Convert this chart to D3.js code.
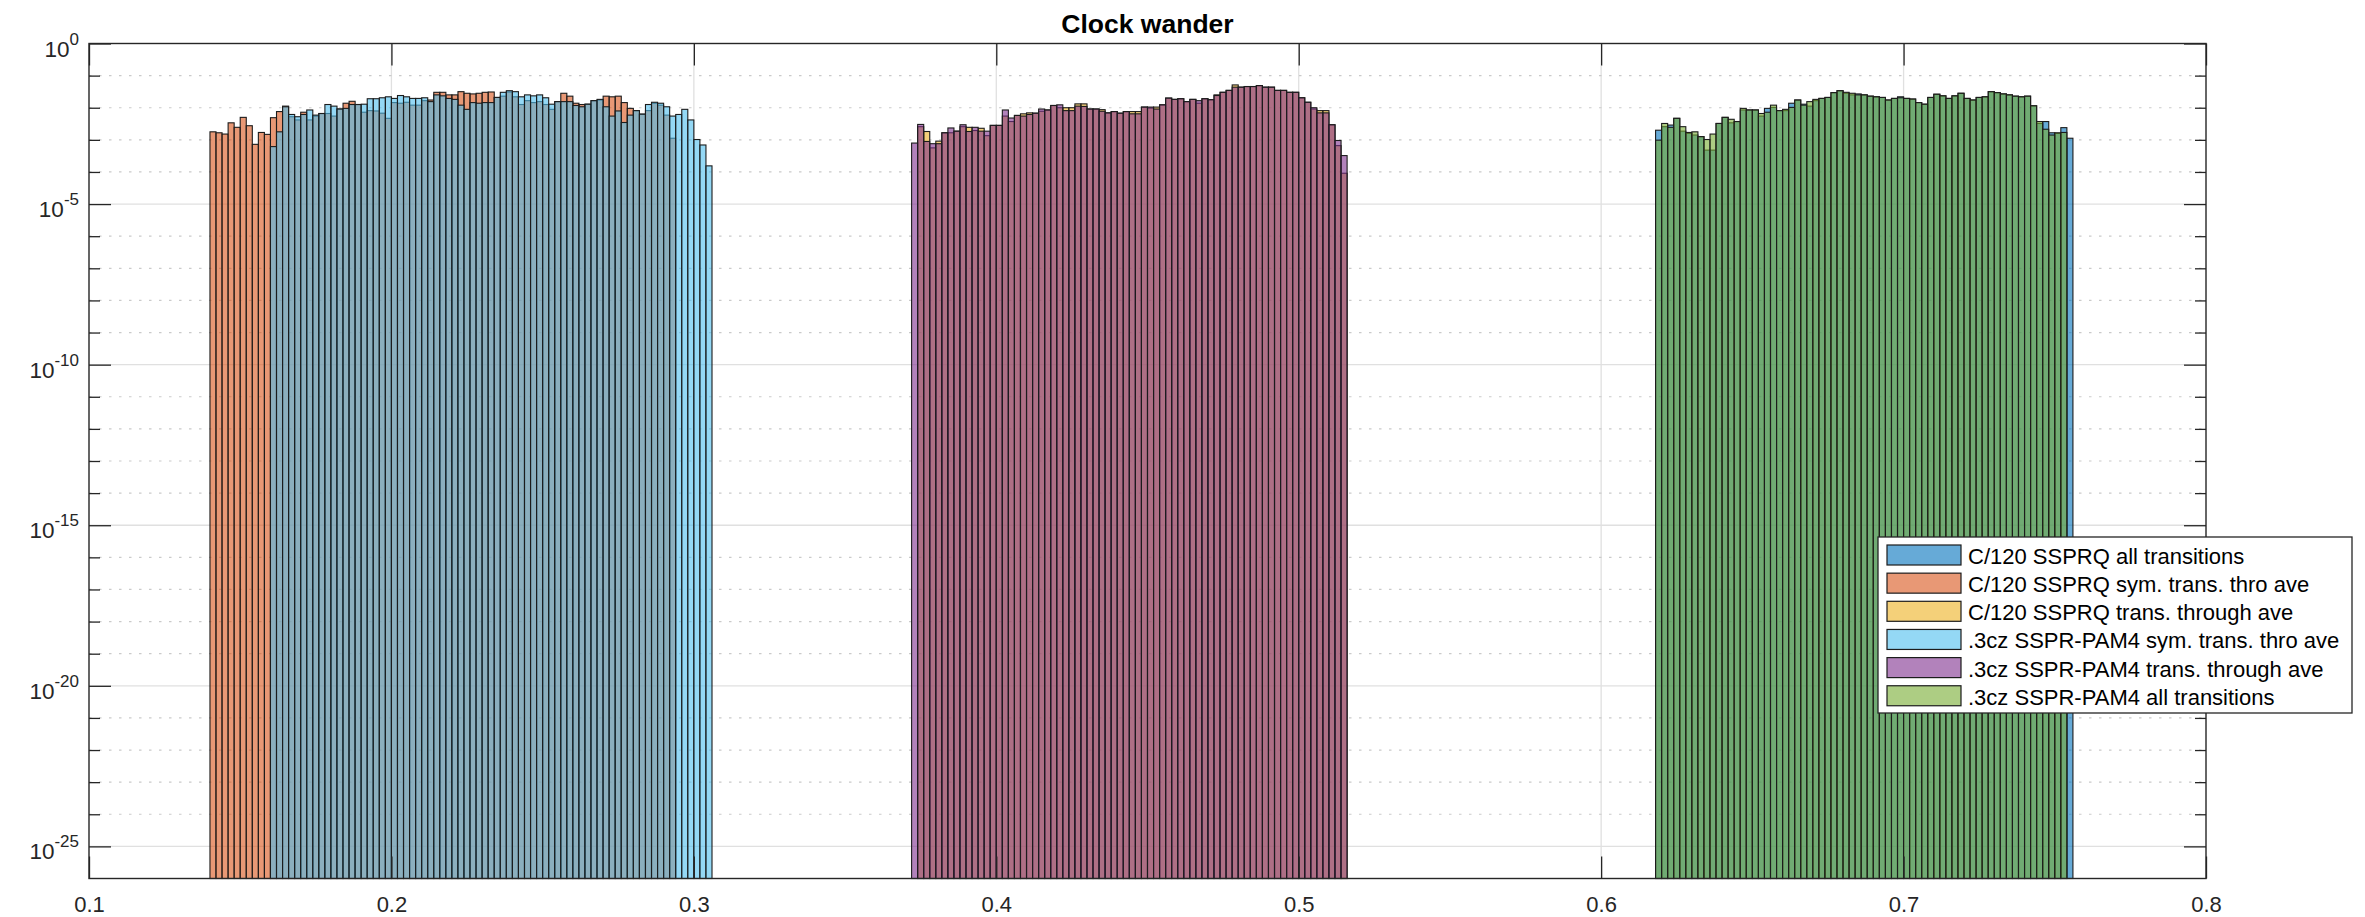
<!DOCTYPE html>
<html>
<head>
<meta charset="utf-8">
<script src="https://cdn.jsdelivr.net/npm/d3@7"></script>
<style>
  body { margin: 0; background: #fff; }
  svg { display: block; font-family: "Liberation Sans", Arial, Helvetica, sans-serif; }
</style>
</head>
<body>
<div id="chart"></div>
<script>
// Clock wander histograms (probability, log y axis)
// Bar heights are log10(probability).

const binWidth = 0.002;

// C/120 SSPRQ all transitions
const c120AllStart = 0.618;
const c120AllLog = [
  -2.70, -2.59, -2.54, -2.33, -2.73, -2.80, -2.85, -2.90, -3.32, -3.32,
  -2.49, -2.30, -2.47, -2.43, -2.07, -2.07, -2.07, -2.26, -2.02, -1.99,
  -2.09, -2.09, -1.86, -1.76, -1.89, -1.95, -1.78, -1.71, -1.68, -1.53,
  -1.47, -1.55, -1.60, -1.57, -1.60, -1.64, -1.66, -1.68, -1.76, -1.71,
  -1.66, -1.71, -1.73, -1.84, -1.89, -1.68, -1.58, -1.63, -1.71, -1.63,
  -1.55, -1.71, -1.76, -1.68, -1.66, -1.50, -1.53, -1.57, -1.60, -1.64,
  -1.66, -1.64, -1.94, -2.49, -2.43, -2.78, -2.80, -2.62, -2.95
];

// C/120 SSPRQ sym. trans. thro ave
const c120SymStart = 0.14;
const c120SymLog = [
  -2.75, -2.78, -2.82, -2.47, -2.61, -2.30, -2.56, -3.14, -2.77, -2.83,
  -2.31, -2.12, -1.95, -2.28, -2.38, -2.14, -2.38, -2.26, -2.18, -2.18,
  -2.26, -2.04, -1.86, -1.80, -1.90, -2.14, -2.09, -2.10, -2.17, -2.33,
  -1.84, -1.86, -1.83, -1.92, -1.92, -1.78, -1.76, -1.52, -1.52, -1.60,
  -1.60, -1.50, -1.55, -1.57, -1.55, -1.52, -1.51, -1.68, -1.64, -1.51,
  -1.66, -1.90, -1.78, -1.84, -1.81, -1.90, -2.05, -1.81, -1.55, -1.64,
  -1.86, -1.90, -1.89, -1.78, -1.76, -1.64, -1.66, -1.64, -1.84, -2.02,
  -2.09, -2.20, -2.09, -1.86, -1.92, -2.23, -2.95
];

// C/120 SSPRQ trans. through ave
const c120ThroughStart = 0.374;
const c120ThroughLog = [
  -2.59, -2.74, -3.25, -3.04, -2.78, -2.78, -2.73, -2.59, -2.61,
  -2.71, -2.64, -2.87, -2.55, -2.55, -2.26, -2.43, -2.24, -2.19, -2.16,
  -2.17, -2.11, -2.07, -1.93, -2.00, -2.00, -2.00, -1.88, -1.88, -2.04,
  -2.04, -2.06, -2.16, -2.12, -2.17, -2.12, -2.12, -2.12, -1.98, -2.01,
  -1.98, -1.91, -1.70, -1.74, -1.72, -1.81, -1.74, -1.86, -1.72, -1.75,
  -1.60, -1.52, -1.46, -1.29, -1.36, -1.34, -1.34, -1.31, -1.36, -1.36,
  -1.46, -1.46, -1.52, -1.52, -1.69, -1.83, -2.04, -2.09, -2.09, -2.53,
  -3.18, -4.04
];

// .3cz SSPR-PAM4 sym. trans. thro ave
const pam4SymStart = 0.16;
const pam4SymLog = [
  -3.21, -2.75, -1.97, -2.21, -2.28, -2.21, -2.07, -2.23, -2.18, -1.90,
  -1.95, -2.04, -2.02, -1.90, -1.90, -1.89, -1.72, -1.72, -1.69, -1.66,
  -1.71, -1.62, -1.66, -1.71, -1.71, -1.69, -1.81, -1.60, -1.63, -1.71,
  -1.74, -1.92, -2.05, -1.84, -1.86, -1.84, -1.84, -1.68, -1.52, -1.47,
  -1.50, -1.66, -1.60, -1.63, -1.60, -1.69, -1.89, -1.81, -1.81, -1.81,
  -1.93, -1.97, -1.89, -1.78, -1.74, -1.97, -2.26, -2.10, -2.46, -2.23,
  -2.09, -2.20, -1.90, -1.83, -1.86, -1.97, -2.26, -2.21, -2.05, -2.38,
  -2.99, -3.16, -3.81
];

// .3cz SSPR-PAM4 trans. through ave
const pam4ThroughStart = 0.372;
const pam4ThroughLog = [
  -3.10, -2.52, -3.05, -3.12, -3.12, -2.78, -2.63, -2.73, -2.53, -2.74,
  -2.61, -2.73, -2.73, -2.55, -2.55, -2.07, -2.32, -2.24, -2.26, -2.21,
  -2.17, -2.04, -2.07, -1.93, -1.91, -2.09, -2.09, -1.95, -1.96, -2.04,
  -2.04, -2.11, -2.16, -2.12, -2.17, -2.12, -2.19, -2.19, -1.98, -1.98,
  -2.04, -1.91, -1.70, -1.74, -1.72, -1.81, -1.74, -1.78, -1.72, -1.75,
  -1.62, -1.52, -1.46, -1.36, -1.36, -1.34, -1.34, -1.31, -1.36, -1.36,
  -1.46, -1.46, -1.52, -1.52, -1.69, -1.83, -2.00, -2.16, -2.16, -2.53,
  -3.02, -3.49
];

// .3cz SSPR-PAM4 all transitions
const pam4AllStart = 0.618;
const pam4AllLog = [
  -3.01, -2.49, -2.61, -2.33, -2.59, -2.77, -2.75, -2.90, -2.99, -2.82,
  -2.49, -2.30, -2.36, -2.43, -2.02, -2.07, -2.07, -2.18, -2.14, -1.92,
  -2.09, -2.05, -1.99, -1.76, -1.92, -1.81, -1.74, -1.71, -1.68, -1.53,
  -1.47, -1.52, -1.55, -1.60, -1.60, -1.64, -1.66, -1.68, -1.76, -1.71,
  -1.69, -1.71, -1.73, -1.84, -1.89, -1.68, -1.58, -1.63, -1.71, -1.63,
  -1.55, -1.71, -1.76, -1.68, -1.66, -1.50, -1.53, -1.57, -1.60, -1.64,
  -1.66, -1.64, -1.94, -2.43, -2.67, -2.85, -2.78, -2.77
];

const seriesNames = [
  "C/120 SSPRQ all transitions",
  "C/120 SSPRQ sym. trans. thro ave",
  "C/120 SSPRQ trans. through ave",
  ".3cz SSPR-PAM4 sym. trans. thro ave",
  ".3cz SSPR-PAM4 trans. through ave",
  ".3cz SSPR-PAM4 all transitions"
];
const seriesColors = ["#0072BD", "#D95319", "#EDB120", "#4DBEEE", "#7E2F8E", "#77AC30"];

const xTicks = [0.1, 0.2, 0.3, 0.4, 0.5, 0.6, 0.7, 0.8];
const yMajorExp = [0, -5, -10, -15, -20, -25];

// series table, drawn in legend order
const series = [
  { start: c120AllStart, vals: c120AllLog },
  { start: c120SymStart, vals: c120SymLog },
  { start: c120ThroughStart, vals: c120ThroughLog },
  { start: pam4SymStart, vals: pam4SymLog },
  { start: pam4ThroughStart, vals: pam4ThroughLog },
  { start: pam4AllStart, vals: pam4AllLog }
].map((s, k) => ({
  name: seriesNames[k],
  color: seriesColors[k],
  bins: s.vals.map((v, i) => ({ x0: s.start + i * binWidth, x1: s.start + (i + 1) * binWidth, p: Math.pow(10, v) }))
}));

// layout
const W = 2365, H = 917;
const plot = { left: 89, right: 2206, top: 43.5, bottom: 878.5 };
const axisColor = "#262626";

const svg = d3.select("#chart").append("svg")
  .attr("width", W)
  .attr("height", H);

svg.append("rect").attr("width", W).attr("height", H).attr("fill", "#fff");

const x = d3.scaleLinear().domain([0.1, 0.8]).range([plot.left, plot.right]);
const y = d3.scaleLog().domain([1e-26, 1]).range([plot.bottom, plot.top]);

const yMajor = yMajorExp.map(e => Math.pow(10, e));
const yMinor = d3.range(-1, -26, -1).filter(e => e % 5 !== 0).map(e => Math.pow(10, e));

// grid
const grid = svg.append("g").attr("class", "grid");
grid.selectAll(".xgrid").data(xTicks.slice(1, -1)).enter()
  .append("line")
  .attr("x1", d => x(d)).attr("x2", d => x(d))
  .attr("y1", plot.top).attr("y2", plot.bottom)
  .attr("stroke", "#e0e0e0").attr("stroke-width", 1.3);
grid.selectAll(".ymajor").data(yMajor.slice(1)).enter()
  .append("line")
  .attr("x1", plot.left).attr("x2", plot.right)
  .attr("y1", d => y(d)).attr("y2", d => y(d))
  .attr("stroke", "#e0e0e0").attr("stroke-width", 1.3);
grid.selectAll(".yminor").data(yMinor).enter()
  .append("line")
  .attr("x1", plot.left).attr("x2", plot.right)
  .attr("y1", d => y(d)).attr("y2", d => y(d))
  .attr("stroke", "#cacaca").attr("stroke-width", 1.2)
  .attr("stroke-dasharray", "2.5,7.5");

// histogram bars
const barsG = svg.append("g").attr("class", "bars");
series.forEach(s => {
  barsG.append("g")
    .attr("fill", s.color)
    .attr("fill-opacity", 0.6)
    .attr("stroke", "#1c1c1c")
    .attr("stroke-width", 1.1)
    .selectAll("rect")
    .data(s.bins)
    .enter()
    .append("rect")
    .attr("x", d => x(d.x0))
    .attr("width", d => x(d.x1) - x(d.x0))
    .attr("y", d => y(d.p))
    .attr("height", d => plot.bottom - y(d.p));
});

// axes (ticks point inward, like the original)
function styleAxis(sel) {
  sel.select(".domain").remove();
  sel.selectAll("line").attr("stroke", axisColor).attr("stroke-width", 1.3);
  sel.selectAll("text").attr("fill", axisColor).style("font-size", "22px")
    .style("font-family", "'Liberation Sans', Arial, Helvetica, sans-serif");
}

svg.append("g")
  .attr("transform", `translate(0,${plot.bottom})`)
  .call(d3.axisBottom(x).tickValues(xTicks).tickSizeInner(-22).tickSizeOuter(0)
    .tickPadding(18).tickFormat(d3.format(".1f")))
  .call(styleAxis);

svg.append("g")
  .attr("transform", `translate(0,${plot.top})`)
  .call(d3.axisTop(x).tickValues(xTicks).tickSizeInner(-22).tickSizeOuter(0).tickFormat(""))
  .call(styleAxis);

[[d3.axisLeft, plot.left], [d3.axisRight, plot.right]].forEach(([axisFn, px]) => {
  svg.append("g")
    .attr("transform", `translate(${px},0)`)
    .call(axisFn(y).tickValues(yMajor).tickSizeInner(-22).tickSizeOuter(0).tickFormat(""))
    .call(styleAxis);
  svg.append("g")
    .attr("transform", `translate(${px},0)`)
    .call(axisFn(y).tickValues(yMinor).tickSizeInner(-11).tickSizeOuter(0).tickFormat(""))
    .call(styleAxis);
});

// y tick labels as 10^e
const yLab = svg.append("g")
  .attr("fill", axisColor)
  .attr("text-anchor", "end");
yMajorExp.forEach(e => {
  const t = yLab.append("text")
    .attr("x", plot.left - 10)
    .attr("y", y(Math.pow(10, e)) + 13)
    .style("font-size", "22.5px");
  t.append("tspan").text("10");
  t.append("tspan").attr("dy", -12).style("font-size", "17px").text(String(e));
});

// frame
svg.append("rect")
  .attr("x", plot.left).attr("y", plot.top)
  .attr("width", plot.right - plot.left).attr("height", plot.bottom - plot.top)
  .attr("fill", "none").attr("stroke", axisColor).attr("stroke-width", 1.4);

// title
svg.append("text")
  .attr("x", (plot.left + plot.right) / 2)
  .attr("y", 33)
  .attr("text-anchor", "middle")
  .style("font-size", "26.5px")
  .style("font-weight", "bold")
  .attr("fill", "#000")
  .text("Clock wander");

// legend
const leg = { x: 1878, y: 537, w: 474, h: 176, row0: 555, rowStep: 28.15 };
const legG = svg.append("g");
legG.append("rect")
  .attr("x", leg.x).attr("y", leg.y).attr("width", leg.w).attr("height", leg.h)
  .attr("fill", "#fff").attr("stroke", axisColor).attr("stroke-width", 1.3);

const rows = legG.selectAll(".row").data(series).enter()
  .append("g")
  .attr("transform", (d, i) => `translate(0,${leg.row0 + i * leg.rowStep})`);
rows.append("rect")
  .attr("x", 1887).attr("y", -10).attr("width", 74).attr("height", 20)
  .attr("fill", d => d.color).attr("fill-opacity", 0.6)
  .attr("stroke", "#1c1c1c").attr("stroke-width", 1.2);
rows.append("text")
  .attr("x", 1968).attr("y", 9)
  .style("font-size", "22px")
  .attr("fill", "#000")
  .text(d => d.name);
</script>
</body>
</html>
